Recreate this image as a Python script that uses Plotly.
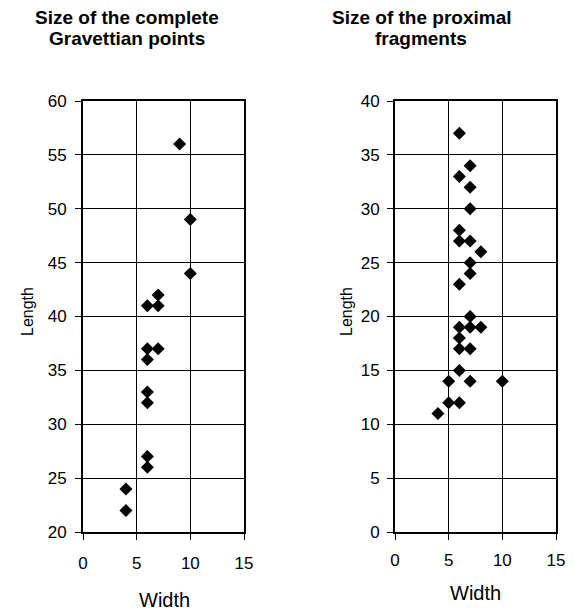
import plotly.graph_objects as go

# Complete Gravettian points
complete_width = [9, 10, 10, 6, 7, 7, 6, 7, 6, 6, 6, 6, 6, 4, 4]
complete_length = [56, 49, 44, 41, 42, 41, 37, 37, 36, 33, 32, 27, 26, 24, 22]

# Proximal fragments
prox_width = [6, 7, 6, 7, 7, 6, 6, 7, 8, 7, 7, 6, 7, 6, 7, 8, 6, 6, 7, 6, 5, 7, 10, 5, 6, 4]
prox_length = [37, 34, 33, 32, 30, 28, 27, 27, 26, 25, 24, 23, 20, 19, 19, 19, 18, 17, 17, 15, 14, 14, 14, 12, 12, 11]

title_lines = [["Size of the complete", "Gravettian points"], ["Size of the proximal", "fragments"]]
x_title = "Width"
y_title = "Length"

FONT = "Liberation Sans, Arial, sans-serif"
OFF = 8  # page body margin
W, H = 574 - OFF, 612 - OFF


def px(x):
    return (x - OFF) / W


def py(y):
    return 1 - (y - OFF) / H


fig = go.Figure()
fig.add_trace(go.Scatter(x=complete_width, y=complete_length, mode="markers",
                         marker=dict(symbol="diamond", size=10, color="black"),
                         xaxis="x", yaxis="y", showlegend=False))
fig.add_trace(go.Scatter(x=prox_width, y=prox_length, mode="markers",
                         marker=dict(symbol="diamond", size=10, color="black"),
                         xaxis="x2", yaxis="y2", showlegend=False))

dx1 = [px(83), px(244)]
dx2 = [px(395), px(556)]
dy = [py(532), py(101)]

axis_common = dict(showgrid=True, gridcolor="black", gridwidth=1,
                   showline=True, linecolor="black", linewidth=2, mirror=True,
                   ticks="outside", ticklen=6, tickcolor="black", tickwidth=1,
                   zeroline=False, automargin=False,
                   tickfont=dict(family=FONT, size=17, color="black"))

fig.update_layout(
    template="none",
    width=W, height=H,
    margin=dict(l=0, r=0, t=0, b=0),
    paper_bgcolor="white", plot_bgcolor="white",
    font=dict(family=FONT, color="black"),
    xaxis=dict(domain=dx1, range=[0, 15], dtick=5, anchor="y", ticklabelstandoff=9, **axis_common),
    yaxis=dict(domain=dy, range=[20, 60], dtick=5, anchor="x", ticklabelstandoff=5, **axis_common),
    xaxis2=dict(domain=dx2, range=[0, 15], dtick=5, anchor="y2", ticklabelstandoff=6, **axis_common),
    yaxis2=dict(domain=dy, range=[0, 40], dtick=5, anchor="x2", ticklabelstandoff=4, **axis_common),
)

ann = []
for cx, lines in [(127, title_lines[0]), (421, title_lines[1])]:
    for cy, t in zip([17, 39], lines):
        ann.append(dict(text="<b>" + t + "</b>", x=px(cx), y=py(cy), xref="paper", yref="paper",
                        xanchor="center", yanchor="middle", showarrow=False,
                        font=dict(family=FONT, size=19, color="black")))
for cx, cy in [(164, 600), (475, 593)]:
    ann.append(dict(text=x_title, x=px(cx), y=py(cy), xref="paper", yref="paper",
                    xanchor="center", yanchor="middle", showarrow=False,
                    font=dict(family=FONT, size=20, color="black")))
for cx, cy in [(27, 312), (346, 312)]:
    ann.append(dict(text=y_title, x=px(cx), y=py(cy), xref="paper", yref="paper",
                    xanchor="center", yanchor="middle", showarrow=False, textangle=-90,
                    font=dict(family=FONT, size=16, color="black")))
fig.update_layout(annotations=ann)

fig.write_html("out.html")
